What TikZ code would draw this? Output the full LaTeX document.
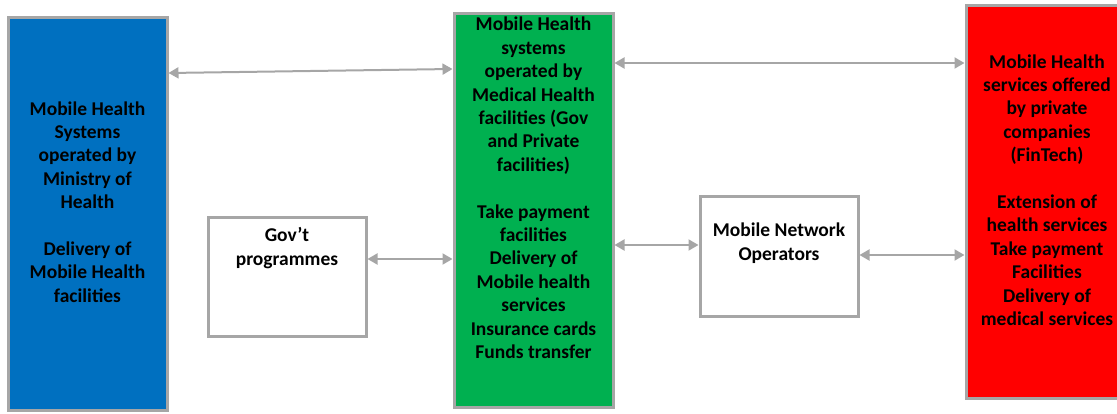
\documentclass[tikz,border=0pt]{standalone}
\usepackage{fontspec}
\setmainfont{Carlito}
\usetikzlibrary{arrows.meta}
\definecolor{boxgray}{HTML}{A6A6A6}
\definecolor{mohblue}{HTML}{0070C0}
\definecolor{facgreen}{HTML}{00B050}
\definecolor{techred}{HTML}{FF0000}
\begin{document}
\begin{tikzpicture}[x=1pt,y=1pt]
  \tikzset{block/.style={shape=rectangle,draw=boxgray,line width=3pt,minimum width=159pt,minimum height=392pt,inner sep=0pt}};
  \tikzset{small/.style={block,fill=white,minimum width=158pt,minimum height=118pt}};
  \tikzset{txt/.style={text centered,align=center,font=\fontsize{19.5}{23.4}\selectfont\bfseries}};
  \tikzset{link/.style={draw=boxgray,line width=2pt,{Triangle[length=10pt,width=11pt]}-{Triangle[length=10pt,width=11pt]}}};
  \clip (0,0) rectangle (1117,413);
  \node[block,fill=mohblue](MoH) at (87.5,199){};
  \node[block,fill=facgreen,minimum height=393pt](MedFac) at (533.5,202.5){};
  \node[block,fill=techred](FinTech) at (1045.5,211){};
  \node[small](Gov) at (287,136){};
  \node[small,minimum height=119pt](MNO) at (779,156.5){};
  \node[txt](MoHtxt) at ([yshift=12pt]MoH.center){Mobile Health\\Systems\\operated by\\Ministry of\\Health\\[23.4pt]Delivery of\\Mobile Health\\facilities};
  \node[txt](MedFactxt) at ([yshift=22.5pt]MedFac.center){Mobile Health\\systems\\operated by\\Medical Health\\facilities (Gov\\and Private\\facilities)\\[23.4pt]Take payment\\facilities\\Delivery of\\Mobile health\\services\\Insurance cards\\Funds transfer};
  \node[txt](FinTechtxt) at ([yshift=12pt,xshift=1.5pt]FinTech.center){Mobile Health\\services offered\\by private\\companies\\(FinTech)\\[23.4pt]Extension of\\health services\\Take payment\\Facilities\\Delivery of\\medical services};
  \node[txt](Govtxt) at ([yshift=29pt]Gov.center){Gov’t\\programmes};
  \node[txt](MNOtxt) at ([yshift=13.5pt]MNO.center){Mobile Network\\Operators};
  \draw[link] ([yshift=141pt]MoH.east) -- ([yshift=141.5pt]MedFac.west);
  \draw[link] ([yshift=147.5pt]MedFac.east) -- ([yshift=139pt]FinTech.west);
  \draw[link] ([yshift=18pt]Gov.east) -- ([yshift=-48.5pt]MedFac.west);
  \draw[link] ([yshift=-34.5pt]MedFac.east) -- ([yshift=11.5pt]MNO.west);
  \draw[link] ([yshift=1.5pt]MNO.east) -- ([yshift=-53pt]FinTech.west);
\end{tikzpicture}
\end{document}
